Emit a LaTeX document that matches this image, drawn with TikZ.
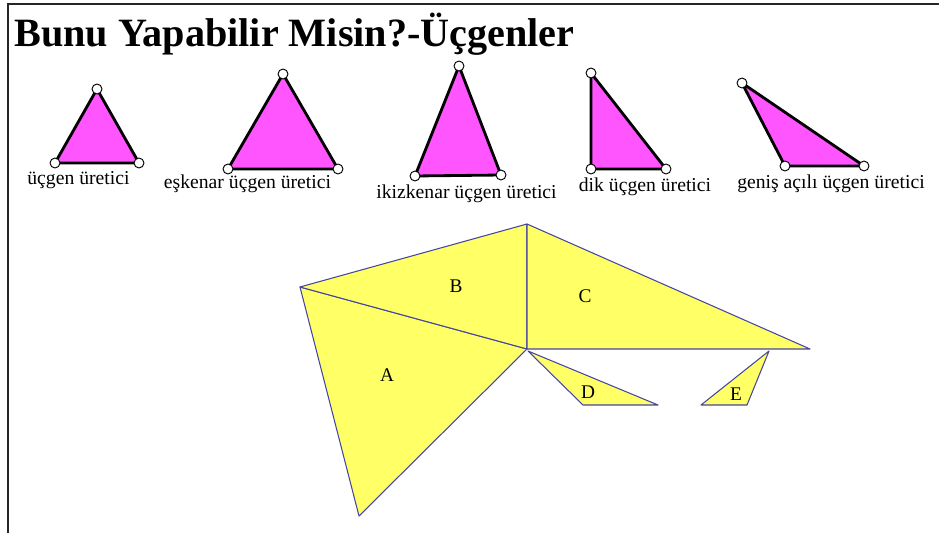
\documentclass[tikz,border=0pt]{standalone}
\usepackage{fontspec}
\setmainfont{Liberation Serif}
\definecolor{mag}{RGB}{255,85,255}
\definecolor{yel}{RGB}{255,255,102}
\definecolor{edge}{RGB}{70,70,160}
\tikzset{
    pinktri/.style={fill=mag, draw=black, line width=2.4pt, line join=round},
    knob/.style={circle, draw=black, fill=white, line width=0.8pt, inner sep=0pt, minimum size=8.5pt},
    piece/.style={fill=yel, draw=edge, line width=0.9pt, line join=round},
    gen/.style={font=\fontsize{16.8}{18}\selectfont, inner sep=0pt, anchor=base},
    letter/.style={font=\fontsize{16.5}{18}\selectfont, inner sep=0pt}
}
\begin{document}
\begin{tikzpicture}[x=0.03cm,y=-0.03cm]
    \useasboundingbox (0,0) rectangle (939,533);
    % frame
    \draw[line width=1.6pt, black!85] (8,533) -- (8,4) -- (939,4);
    \node[font=\bfseries\fontsize{34.3}{36}\selectfont, inner sep=0pt, anchor=base west]
        (title) at (14,46) {Bunu Yapabilir Misin?-Üçgenler};
    % pink generators
    \coordinate (t1a) at (97,89);  \coordinate (t1b) at (55,163);  \coordinate (t1c) at (139,163);
    \coordinate (t2a) at (283,74); \coordinate (t2b) at (228,169); \coordinate (t2c) at (338,169);
    \coordinate (t3a) at (459,66); \coordinate (t3b) at (415,176); \coordinate (t3c) at (501,175);
    \coordinate (t4a) at (591,73); \coordinate (t4b) at (591,169); \coordinate (t4c) at (666,169);
    \coordinate (t5a) at (742,83); \coordinate (t5b) at (785,166); \coordinate (t5c) at (864,166);
    \foreach \t in {t1,t2,t3,t4,t5}{
        \draw[pinktri] (\t a) -- (\t b) -- (\t c) -- cycle;
        \foreach \v in {a,b,c}
            \node[knob] (k\t\v) at (\t\v) {};
    }
    \node[gen] (g1) at (78.5,184) {üçgen üretici};
    \node[gen] (g2) at (247.5,188) {eşkenar üçgen üretici};
    \node[gen] (g3) at (466.5,198) {ikizkenar üçgen üretici};
    \node[gen] (g4) at (645,191) {dik üçgen üretici};
    \node[gen] (g5) at (831,188) {geniş açılı üçgen üretici};
    % yellow pieces
    \coordinate (pl) at (300,287);
    \coordinate (pt) at (527,224);
    \coordinate (pm) at (527,349);
    \coordinate (pb) at (359,516);
    \coordinate (pr) at (810,349);
    \draw[piece] (pl) -- (pm) -- (pb) -- cycle;
    \draw[piece] (pl) -- (pt) -- (pm) -- cycle;
    \draw[piece] (pt) -- (pr) -- (pm) -- cycle;
    \coordinate (d1) at (528,351); \coordinate (d2) at (583,405); \coordinate (d3) at (658,405);
    \coordinate (e1) at (769,351); \coordinate (e2) at (701,405); \coordinate (e3) at (747,405);
    \draw[piece] (d1) -- (d2) -- (d3) -- cycle;
    \draw[piece] (e1) -- (e2) -- (e3) -- cycle;
    \node[letter] (la) at (387,375) {A};
    \node[letter] (lb) at (456,286) {B};
    \node[letter] (lc) at (585,296) {C};
    \node[letter] (ld) at (588,392) {D};
    \node[letter] (le) at (736,394) {E};
\end{tikzpicture}
\end{document}
